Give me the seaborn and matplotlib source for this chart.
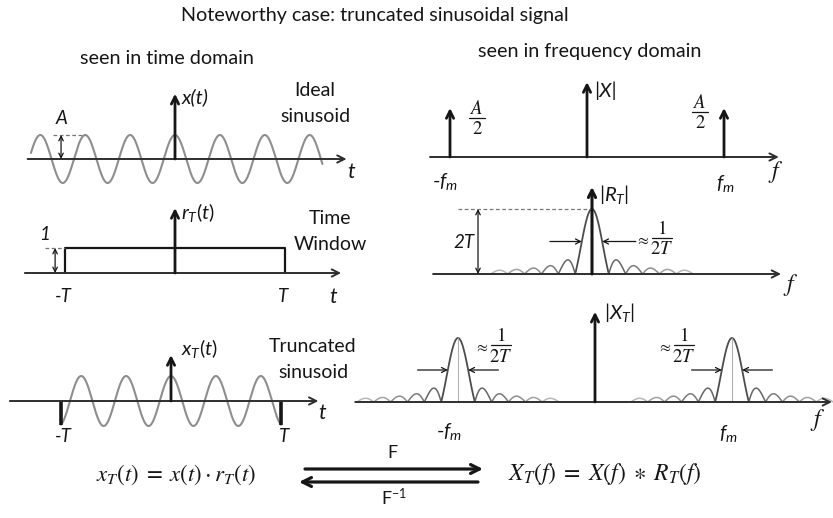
import numpy as np
import matplotlib
matplotlib.use("Agg")
import matplotlib.pyplot as plt
import seaborn as sns

sns.set_theme(style="white")
plt.rcParams["font.family"] = ["Lato", "DejaVu Sans"]
plt.rcParams["mathtext.fontset"] = "custom"
plt.rcParams["mathtext.rm"] = "Lato"
plt.rcParams["mathtext.it"] = "Lato:italic"
plt.rcParams["mathtext.bf"] = "Lato:bold"

W, H = 833, 518

# --- signal parameters: time in units of T, frequency in units of f_m ---
T = 1.0
A = 1.0
cycles_per_T = 2.45            # sinusoid periods inside one half-window
ideal_span = [-1.31, 1.34]     # stretch of the ideal sinusoid that is drawn
window_edges = [-T, T]
window_level = 1.0

f_m = 1.0
spike_freqs = [-f_m, f_m]
spike_heights = [A / 2, A / 2]
half_width = 0.123             # first spectral zero, ~ 1/(2T)
side_lobes = 5                 # side lobes drawn on each side of a main lobe
window_centres = [0.0]
truncated_centres = [-f_m, f_m]

INK = "#161616"
AXIS = "#2e2e2e"
WAVE = "#8e8e8e"

fig = plt.figure(figsize=(W / 100, H / 100), dpi=100)
bg = fig.add_axes([0, 0, 1, 1])
bg.set_xlim(0, W)
bg.set_ylim(H, 0)
bg.axis("off")


def panel(ox, oy, sx, sy, box):
    """Axes whose data origin sits at pixel (ox, oy), sx/sy pixels per unit."""
    x0, y0, x1, y1 = box
    ax = fig.add_axes([x0 / W, 1 - y1 / H, (x1 - x0) / W, (y1 - y0) / H])
    ax.set_xlim((x0 - ox) / sx, (x1 - ox) / sx)
    ax.set_ylim((oy - y1) / sy, (oy - y0) / sy)
    ax.axis("off")
    ax.patch.set_alpha(0)
    return ax


def arrow(ax, start, end, lw=1.4, color=AXIS, scale=13, style="->"):
    ax.annotate("", xy=end, xytext=start,
                arrowprops=dict(arrowstyle=style, lw=lw, color=color,
                                mutation_scale=scale, shrinkA=0, shrinkB=0))


def line(ax, xs, ys, **kw):
    sns.lineplot(x=xs, y=ys, ax=ax, estimator=None, sort=False, **kw)


def wave(t):
    return A * np.cos(2 * np.pi * cycles_per_T * t)


def sinc_lobes(ax, centre):
    segs = [(-1, 1, 0)]
    for k in range(1, side_lobes + 1):
        segs.append((k, k + 1, k))
        segs.append((-k - 1, -k, k))
    for a, b, k in segs:
        f = np.linspace(a, b, 80) * half_width
        y = np.abs(np.sinc(f / half_width))
        g = 0.30 if k == 0 else 0.40 + 0.08 * (k - 1)
        line(ax, centre + f, y, color=str(g), lw=1.3 if k == 0 else 1.1)


def label(x, y, s, size=14, ha="center", va="center", **kw):
    bg.text(x, y, s, fontsize=size, ha=ha, va=va, color=INK, **kw)


def frac(x, y, num, den, size=13.5, half=8):
    """A stacked fraction whose bar is centred on (x, y)."""
    label(x, y - 10, "$%s$" % num, size=size, math_fontfamily="stix")
    label(x, y + 11, "$%s$" % den, size=size, math_fontfamily="stix")
    bg.plot([x - half, x + half], [y, y], color=INK, lw=0.9)


def approx_frac(x, y, num, den):
    label(x - 20, y + 3, r"$\approx$", size=11.5, math_fontfamily="stix")
    frac(x, y, num, den, size=13.5, half=10)


# ---------------- time domain ----------------
# ideal sinusoid
ax1 = panel(175, 159, 110, 24, (0, 75, 370, 195))
t = np.linspace(ideal_span[0], ideal_span[1], 800)
line(ax1, t, wave(t), color=WAVE, lw=1.5)
arrow(ax1, (-1.34, 0), (1.56, 0))
arrow(ax1, (0, 0), (0, 2.72), lw=2.0, color=INK)
t_peak = -2 / cycles_per_T
ax1.plot([-1.11, t_peak], [A, A], ls=(0, (3, 2)), color="#777777", lw=0.9)
arrow(ax1, (-1.036, 0), (-1.036, A), lw=0.9, color=INK, scale=8, style="<->")

# rectangular window
ax2 = panel(175, 273, 110, 25, (0, 195, 370, 300))
line(ax2, [window_edges[0], window_edges[0], window_edges[1], window_edges[1]],
     [0, window_level, window_level, 0], color=INK, lw=1.6)
arrow(ax2, (-1.365, 0), (1.51, 0))
arrow(ax2, (0, 0), (0, 2.6), lw=2.0, color=INK)
ax2.plot([-1.18, window_edges[0]], [window_level, window_level],
         ls=(0, (3, 2)), color="#777777", lw=0.9)
arrow(ax2, (-1.09, 0), (-1.09, window_level), lw=0.9, color=INK, scale=8, style="<->")

# truncated sinusoid
ax3 = panel(171, 401, 110, 25, (0, 320, 370, 450))
tt = np.linspace(window_edges[0], window_edges[1], 800)
line(ax3, tt, wave(tt), color=WAVE, lw=1.5)
arrow(ax3, (-1.465, 0), (1.34, 0))
for e in window_edges:
    ax3.plot([e, e], [0, wave(e)], color=INK, lw=2.6, solid_capstyle="butt")
arrow(ax3, (0, 0), (0, 1.84), lw=2.0, color=INK)

# ---------------- frequency domain ----------------
axf1 = panel(587, 157, 137, 98, (400, 70, 833, 190))
arrow(axf1, (-1.146, 0), (1.40, 0))
for f, h in zip(spike_freqs, spike_heights):
    arrow(axf1, (f, 0), (f, h), lw=2.0, color=INK)
arrow(axf1, (0, 0), (0, 0.765), lw=2.0, color=INK)

axf2 = panel(592, 274, 137, 65, (400, 180, 833, 300))
arrow(axf2, (-1.16, 0), (1.38, 0))
for c in window_centres:
    sinc_lobes(axf2, c)
arrow(axf2, (0, 0), (0, 1.34), lw=2.2, color=INK)
axf2.plot([-0.978, 0], [1, 1], ls=(0, (3, 2)), color="#777777", lw=0.9)
arrow(axf2, (-0.832, 0), (-0.832, 1), lw=0.9, color=INK, scale=8, style="<->")
arrow(axf2, (-0.307, 0.5), (-0.6 * half_width, 0.5), lw=0.9, color=INK, scale=9)
arrow(axf2, (0.32, 0.5), (0.6 * half_width, 0.5), lw=0.9, color=INK, scale=9)

axf3 = panel(595, 402, 137, 64, (350, 300, 833, 420))
arrow(axf3, (-1.75, 0), (1.73, 0))
for c in truncated_centres:
    sinc_lobes(axf3, c)
    axf3.plot([c, c], [0, 1], color="#b0b0b0", lw=0.8)
    arrow(axf3, (c - 0.295, 0.5), (c - 0.6 * half_width, 0.5), lw=0.9, color=INK, scale=9)
    arrow(axf3, (c + 0.295, 0.5), (c + 0.6 * half_width, 0.5), lw=0.9, color=INK, scale=9)
arrow(axf3, (0, 0), (0, 1.41), lw=2.0, color=INK)

# ---------------- Fourier pair arrows ----------------
bg.annotate("", xy=(483, 469), xytext=(305, 469),
            arrowprops=dict(arrowstyle="->", lw=2.3, color=INK, mutation_scale=16,
                            shrinkA=0, shrinkB=0))
bg.annotate("", xy=(299, 482), xytext=(478, 482),
            arrowprops=dict(arrowstyle="->", lw=2.3, color=INK, mutation_scale=16,
                            shrinkA=0, shrinkB=0))

# ---------------- text ----------------
label(375, 15, "Noteworthy case: truncated sinusoidal signal", size=14.2)
label(167, 58, "seen in time domain", size=14.2)
label(590, 52, "seen in frequency domain", size=14.2)

label(62, 118, "A", style="italic", size=13.5)
label(182, 97, "x(t)", ha="left", style="italic", size=14.5)
label(315, 91, "Ideal")
label(315, 117, "sinusoid")
label(351, 172, "t", size=15.5, style="italic")

label(181, 213, r"$r_T(t)$", ha="left", size=14.5)
label(45, 234, "1", style="italic", size=13.5)
label(330, 218, "Time")
label(330, 245, "Window")
label(63, 297, "-T", style="italic", size=13.5)
label(283, 297, "T", style="italic", size=13.5)
label(333, 297, "t", size=15.5, style="italic")

label(181, 349, r"$x_T(t)$", ha="left", size=14.5)
label(313, 347, "Truncated")
label(313, 373, "sinusoid")
label(322, 413, "t", size=15.5, style="italic")
label(63, 437, "-T", style="italic", size=13.5)
label(284, 437, "T", style="italic", size=13.5)

label(594, 91, "|X|", ha="left", style="italic", size=14.5)
frac(477, 118, "A", "2")
frac(700, 112, "A", "2")
label(445, 181, r"-$f_m$", size=14.5)
label(725, 184, r"$f_m$", size=14.5)
label(776, 172, r"$f$", size=17, math_fontfamily="stix")

label(599, 194, r"$|R_T|$", ha="left", size=14.5)
label(464, 243, "2T", style="italic", size=13.5)
approx_frac(662, 238, "1", "2T")
label(791, 285, r"$f$", size=17, math_fontfamily="stix")

label(604, 313, r"$|X_T|$", ha="left", size=14.5)
approx_frac(501, 345, "1", "2T")
approx_frac(684, 345, "1", "2T")
label(449, 431, r"-$f_m$", size=14.5)
label(728, 433, r"$f_m$", size=14.5)
label(818, 420, r"$f$", size=17, math_fontfamily="stix")

label(176, 475, r"$x_T(t)\;=\;x(t)\cdot r_T(t)$", size=16.5, math_fontfamily="stix")
label(392, 453, "F", size=13)
label(394, 497, r"$\mathrm{F}^{-1}$", size=13)
label(605, 474, r"$X_T(f)\;=\;X(f)\;\ast\;R_T(f)$", size=17, math_fontfamily="stix")

fig.savefig("out.png", dpi=100)
